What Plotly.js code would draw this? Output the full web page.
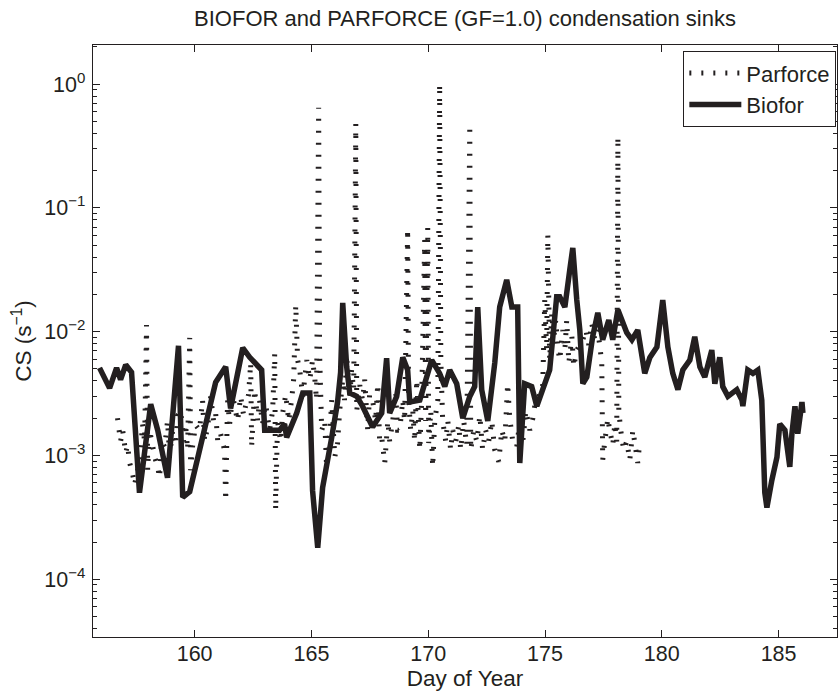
<!DOCTYPE html>
<html>
<head>
<meta charset="utf-8">
<script src="https://cdn.plot.ly/plotly-3.0.1.min.js"></script>
<style>html,body{margin:0;padding:0;background:#fff;}#chart{width:838px;height:694px;}</style>
</head>
<body>
<div id="chart"></div>
<script>
// Biofor condensation sink (day of year, CS in 1/s)
const bioforDay = [155.93,156.36,156.66,156.83,157.05,157.30,157.64,158.12,158.42,158.84,159.31,159.49,159.79,160.90,161.33,161.54,162.06,162.36,162.87,163.00,163.64,163.85,163.94,164.37,164.63,164.93,165.05,165.27,165.48,165.87,166.12,166.25,166.34,166.51,166.64,166.94,167.19,167.62,168.01,168.22,168.35,168.65,168.91,169.12,169.21,169.64,170.15,170.49,170.71,170.92,171.22,171.48,171.78,171.99,172.12,172.29,172.55,172.85,173.06,173.36,173.58,173.83,173.92,174.13,174.43,174.65,174.90,175.20,175.50,175.63,175.85,176.06,176.19,176.36,176.49,176.62,176.79,177.04,177.26,177.47,177.73,177.90,178.12,178.29,178.50,178.72,178.97,179.27,179.49,179.79,180.04,180.26,180.47,180.69,180.90,181.20,181.41,181.63,181.84,182.14,182.27,182.48,182.61,182.83,183.21,183.43,183.47,183.68,183.90,184.11,184.28,184.41,184.50,184.71,184.93,185.05,185.27,185.48,185.57,185.70,185.82,186.00,186.04];
const bioforCS = [0.0051,0.0035,0.0051,0.0041,0.0054,0.0047,0.00050,0.0026,0.0016,0.00066,0.0077,0.00046,0.00051,0.0039,0.0052,0.0024,0.0074,0.0062,0.0049,0.0016,0.0016,0.0018,0.0014,0.0022,0.0032,0.0032,0.00052,0.00018,0.00055,0.0014,0.0027,0.0047,0.0171,0.0052,0.0032,0.0030,0.0025,0.0017,0.0022,0.0061,0.0022,0.0030,0.0062,0.0049,0.0027,0.0028,0.0059,0.0046,0.0036,0.0049,0.0038,0.0020,0.0030,0.0036,0.0158,0.0034,0.0019,0.0056,0.0158,0.0262,0.0158,0.0158,0.00087,0.0038,0.0036,0.0025,0.0034,0.0049,0.0191,0.0191,0.0158,0.0316,0.0475,0.0180,0.0103,0.0038,0.0043,0.0091,0.0142,0.0086,0.0124,0.0086,0.0150,0.0124,0.0098,0.0086,0.0103,0.0046,0.0062,0.0075,0.0180,0.0075,0.0046,0.0034,0.0049,0.0059,0.0091,0.0052,0.0043,0.0071,0.0038,0.0062,0.0036,0.0030,0.0034,0.0028,0.0025,0.0049,0.0046,0.0049,0.0028,0.00050,0.00038,0.00063,0.00097,0.0018,0.0016,0.00081,0.0015,0.0025,0.0015,0.0027,0.0022];

// Parforce condensation sink (GF=1.0)
const parforceDay = [156.70,156.83,156.92,157.05,157.13,157.22,157.34,157.43,157.56,157.64,157.77,157.86,157.94,157.99,158.07,158.20,158.29,158.42,158.50,158.59,158.72,158.84,158.93,159.06,159.19,159.27,159.40,159.53,159.61,159.70,159.79,159.83,159.91,160.04,160.21,160.34,160.43,160.56,160.69,160.81,160.90,160.99,161.11,161.28,161.33,161.41,161.50,161.63,161.71,161.84,161.97,162.10,162.18,162.31,162.40,162.44,162.57,162.70,162.78,162.91,163.04,163.21,163.34,163.43,163.47,163.55,163.68,163.77,163.90,164.03,164.15,164.24,164.33,164.41,164.50,164.63,164.71,164.80,164.93,165.05,165.14,165.22,165.31,165.35,165.44,165.57,165.65,165.78,165.87,166.00,166.12,166.21,166.34,166.42,166.51,166.64,166.72,166.81,166.90,166.94,167.07,167.19,167.28,167.41,167.49,167.62,167.75,167.84,167.92,168.01,168.14,168.27,168.35,168.48,168.61,168.69,168.78,168.91,168.99,169.12,169.16,169.25,169.34,169.42,169.51,169.64,169.72,169.85,169.89,169.98,170.02,170.11,170.19,170.28,170.41,170.49,170.54,170.62,170.75,170.84,170.96,171.05,171.18,171.31,171.39,171.52,171.65,171.78,171.82,171.95,172.08,172.21,172.33,172.46,172.59,172.72,172.85,173.02,173.15,173.28,173.40,173.49,173.62,173.79,173.92,174.05,174.18,174.35,174.48,174.60,174.78,174.90,174.99,175.07,175.12,175.20,175.29,175.37,175.46,175.55,175.63,175.76,175.85,175.93,176.02,176.15,176.23,176.36,176.49,176.62,176.75,176.87,177.00,177.13,177.26,177.34,177.43,177.47,177.56,177.69,177.77,177.90,177.99,178.07,178.12,178.16,178.24,178.37,178.50,178.63,178.76,178.89,178.97,179.06];
const parforceCS = [0.0020,0.0013,0.0016,0.00105,0.00121,0.00087,0.00072,0.00058,0.00076,0.00081,0.0018,0.0013,0.0113,0.00076,0.0016,0.00121,0.00097,0.00081,0.00066,0.0013,0.00117,0.0019,0.00101,0.0016,0.00121,0.0021,0.0023,0.0013,0.0018,0.00111,0.0089,0.00076,0.00117,0.00176,0.0016,0.0028,0.0013,0.0017,0.0030,0.0019,0.0022,0.0013,0.0015,0.00111,0.00043,0.0028,0.0018,0.0031,0.0025,0.0019,0.0030,0.0021,0.0025,0.0031,0.0056,0.00117,0.0034,0.0019,0.0028,0.0018,0.0026,0.0016,0.0023,0.0067,0.00036,0.0019,0.0013,0.0022,0.0031,0.0019,0.0028,0.0041,0.0164,0.0059,0.0049,0.0030,0.0041,0.0059,0.0041,0.0059,0.0043,0.0028,0.643,0.0067,0.0016,0.0019,0.00081,0.0014,0.0028,0.00097,0.00126,0.0023,0.0041,0.0028,0.0062,0.0030,0.0049,0.0034,0.478,0.0023,0.0037,0.0028,0.0041,0.0016,0.0031,0.0028,0.0019,0.0038,0.0013,0.0014,0.00087,0.0019,0.0013,0.0019,0.0031,0.0016,0.0016,0.0028,0.0019,0.0676,0.0028,0.0016,0.0023,0.0013,0.0041,0.00111,0.0028,0.0551,0.0019,0.0689,0.00126,0.0023,0.00081,0.0019,0.0028,1.0,0.0059,0.0019,0.0013,0.0019,0.00111,0.0016,0.0013,0.00176,0.00111,0.0019,0.00121,0.469,0.00111,0.0016,0.0013,0.0021,0.00111,0.0016,0.0013,0.0019,0.00111,0.00089,0.0016,0.0013,0.0038,0.0020,0.0013,0.00117,0.0019,0.0013,0.0023,0.0016,0.0020,0.0028,0.0031,0.0036,0.0180,0.0071,0.0605,0.0059,0.0142,0.0086,0.0124,0.0074,0.0059,0.0103,0.0071,0.0124,0.0056,0.0091,0.0052,0.0071,0.0078,0.0086,0.0103,0.0078,0.0117,0.0086,0.0103,0.0078,0.0056,0.00092,0.0013,0.0020,0.0016,0.00121,0.0018,0.0013,0.375,0.0023,0.0016,0.00111,0.0013,0.00092,0.0016,0.00111,0.00087,0.0013];

// Axis ticks and labels
const xTicks = [160,165,170,175,180,185];
const yTicks = [1e-4,1e-3,1e-2,1e-1,1];
const yTickText = ['10<sup>−4</sup>','10<sup>−3</sup>','10<sup>−2</sup>','10<sup>−1</sup>','10<sup>0</sup>'];

const INK = '#231f20';
const FONT = '"Liberation Sans", Arial, Helvetica, sans-serif';

const traces = [
  {x: parforceDay, y: parforceCS, name: 'Parforce', type: 'scatter', mode: 'lines',
   line: {color: INK, width: 5, dash: '2px,10px', simplify: false}},
  {x: bioforDay, y: bioforCS, name: 'Biofor', type: 'scatter', mode: 'lines',
   line: {color: INK, width: 5.5, simplify: false}}
];

const layout = {
  width: 838, height: 694,
  margin: {l: 93, r: 1, t: 45, b: 57},
  paper_bgcolor: '#fff', plot_bgcolor: '#fff',
  font: {family: FONT, color: INK, size: 21},
  showlegend: true,
  title: {text: 'BIOFOR and PARFORCE (GF=1.0) condensation sinks',
          font: {family: FONT, size: 22, color: INK},
          x: 0.5, xref: 'paper', y: 1 - 18/694, yref: 'container', yanchor: 'middle'},
  xaxis: {
    range: [155.65, 187.5], tickmode: 'array', tickvals: xTicks,
    ticks: 'inside', ticklen: 7, tickwidth: 1, tickcolor: INK,
    showline: true, linecolor: INK, linewidth: 1.3, mirror: 'ticks',
    showgrid: false, zeroline: false,
    tickfont: {family: FONT, size: 21.5, color: INK},
    ticklabelstandoff: -3,
    title: {text: 'Day of Year', font: {family: FONT, size: 22.5, color: INK}, standoff: 4}
  },
  yaxis: {
    type: 'log', range: [-4.466, 0.315], tickmode: 'array', tickvals: yTicks, ticktext: yTickText,
    ticks: 'inside', ticklen: 7, tickwidth: 1, tickcolor: INK,
    minor: {dtick: 'D1', ticks: 'inside', ticklen: 4, tickwidth: 1, tickcolor: INK, showgrid: false},
    showline: true, linecolor: INK, linewidth: 1.3, mirror: 'ticks',
    showgrid: false, zeroline: false,
    tickfont: {family: FONT, size: 21.5, color: INK},
    ticklabelstandoff: 2,
    title: {text: 'CS (s<sup>−1</sup>)', font: {family: FONT, size: 22.5, color: INK}, standoff: 6}
  },
  legend: {x: 0.9987, xanchor: 'right', y: 0.99, yanchor: 'top',
           bgcolor: '#fff', bordercolor: INK, borderwidth: 1.3,
           itemwidth: 52,
           font: {family: FONT, size: 22, color: INK}, tracegroupgap: 0}
};

Plotly.newPlot('chart', traces, layout, {displayModeBar: false, staticPlot: true});
</script>
</body>
</html>
